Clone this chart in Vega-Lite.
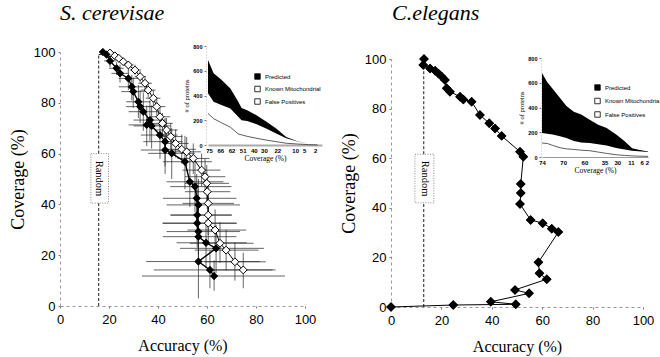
{
"$schema": "https://vega.github.io/schema/vega-lite/v6.json",
"width": 660, "height": 357, "autosize": {"type": "none"}, "padding": 0,
"background": "white",
"config": {"view": {"stroke": null}, "font": "Liberation Sans", "axis": {"grid": false}},
"datasets": {
"one": [{}],
"lf": [
{"a":17.5,"c":100,"xl":16.5,"xh":19,"yl":99,"yh":100},
{"a":19,"c":99,"xl":17,"xh":21,"yl":98,"yh":100},
{"a":20.4,"c":96.5,"xl":18,"xh":23,"yl":94,"yh":99},
{"a":23.1,"c":93.6,"xl":20,"xh":26,"yl":91,"yh":96},
{"a":24.5,"c":91.6,"xl":21,"xh":28,"yl":88,"yh":95},
{"a":27.9,"c":89.6,"xl":24,"xh":32,"yl":85,"yh":94},
{"a":29.3,"c":86.3,"xl":24,"xh":34,"yl":81,"yh":91},
{"a":29.9,"c":84.4,"xl":25,"xh":35,"yl":78,"yh":90},
{"a":32,"c":80.4,"xl":27,"xh":37,"yl":74,"yh":87},
{"a":32.7,"c":78.5,"xl":27,"xh":38,"yl":72,"yh":85},
{"a":34,"c":76.5,"xl":28,"xh":40,"yl":69,"yh":84},
{"a":36.7,"c":73.2,"xl":30,"xh":43,"yl":65,"yh":81},
{"a":35.4,"c":71.3,"xl":28,"xh":43,"yl":63,"yh":79},
{"a":37.4,"c":70.9,"xl":30,"xh":45,"yl":62,"yh":79},
{"a":40.8,"c":67.3,"xl":33,"xh":48,"yl":58,"yh":76},
{"a":42.9,"c":64.7,"xl":34,"xh":50,"yl":55,"yh":74},
{"a":42.9,"c":61.4,"xl":33,"xh":52,"yl":52,"yh":71},
{"a":45.6,"c":60.1,"xl":36,"xh":55,"yl":50,"yh":70},
{"a":51,"c":56.8,"xl":42,"xh":62,"yl":46,"yh":67},
{"a":53,"c":48.9,"xl":43.5,"xh":66.7,"yl":39,"yh":59},
{"a":55.1,"c":47,"xl":45,"xh":70,"yl":37,"yh":57},
{"a":55.8,"c":42.4,"xl":42,"xh":72,"yl":33,"yh":52},
{"a":56.5,"c":39.8,"xl":43.5,"xh":73.5,"yl":30,"yh":50},
{"a":56,"c":35.8,"xl":45,"xh":70,"yl":26,"yh":46},
{"a":56,"c":32.6,"xl":42,"xh":72,"yl":23,"yh":42},
{"a":56.5,"c":29.3,"xl":43.5,"xh":73.5,"yl":20,"yh":39},
{"a":56.5,"c":27.3,"xl":42,"xh":72,"yl":18,"yh":37},
{"a":59.6,"c":24.9,"xl":47.6,"xh":76.2,"yl":15,"yh":34},
{"a":63.7,"c":22.7,"xl":49,"xh":83.3,"yl":13,"yh":32},
{"a":56.5,"c":17.5,"xl":35.2,"xh":81.6,"yl":3,"yh":30},
{"a":61.2,"c":14.2,"xl":38.3,"xh":86.7,"yl":7,"yh":22},
{"a":62.9,"c":11.8,"xl":33.5,"xh":91.8,"yl":6,"yh":18}
],
"lo": [
{"a":20.4,"c":99.6,"xl":19.5,"xh":21.5,"yl":99,"yh":100},
{"a":22.4,"c":98.5,"xl":21,"xh":24,"yl":97.5,"yh":99.5},
{"a":24,"c":97.5,"xl":22.5,"xh":25.5,"yl":96.5,"yh":98.5},
{"a":25.8,"c":96.2,"xl":24,"xh":27.5,"yl":95,"yh":97.5},
{"a":27.9,"c":94.9,"xl":26,"xh":30,"yl":93,"yh":96.5},
{"a":30.6,"c":92.9,"xl":28.5,"xh":33,"yl":91,"yh":95},
{"a":32.7,"c":90.3,"xl":30.5,"xh":35,"yl":88,"yh":92.5},
{"a":34.7,"c":87.7,"xl":32,"xh":37.5,"yl":85,"yh":90.5},
{"a":36,"c":85,"xl":33,"xh":39,"yl":82,"yh":88},
{"a":38.1,"c":81.8,"xl":35,"xh":41,"yl":78.5,"yh":85},
{"a":39.5,"c":78.5,"xl":36,"xh":43,"yl":75,"yh":82},
{"a":40.8,"c":74.5,"xl":37,"xh":45,"yl":70.5,"yh":78.5},
{"a":41.8,"c":71.9,"xl":38,"xh":46,"yl":67.5,"yh":76},
{"a":43.5,"c":69.3,"xl":39,"xh":48,"yl":64.5,"yh":74},
{"a":45.2,"c":66.7,"xl":40.5,"xh":50,"yl":61.5,"yh":72},
{"a":47.2,"c":64,"xl":42,"xh":52.5,"yl":58.5,"yh":69.5},
{"a":49.7,"c":61.7,"xl":44,"xh":55.5,"yl":56,"yh":67.5},
{"a":51.7,"c":60.7,"xl":46,"xh":57.5,"yl":55,"yh":66.5},
{"a":54.4,"c":58.1,"xl":48,"xh":61,"yl":52,"yh":64},
{"a":57.8,"c":53.5,"xl":50,"xh":65.5,"yl":47,"yh":60},
{"a":59.2,"c":50.9,"xl":51,"xh":67.5,"yl":44,"yh":58},
{"a":59.9,"c":48.3,"xl":51,"xh":69,"yl":41,"yh":55.5},
{"a":60.1,"c":45,"xl":51,"xh":69.5,"yl":38,"yh":52},
{"a":60.5,"c":40.4,"xl":50,"xh":71,"yl":33,"yh":48},
{"a":60.5,"c":35.8,"xl":45.2,"xh":70.2,"yl":28,"yh":43.5},
{"a":60.5,"c":32.6,"xl":41.8,"xh":72.2,"yl":25,"yh":40},
{"a":63.3,"c":29.9,"xl":52,"xh":76,"yl":22,"yh":38},
{"a":65.3,"c":24.7,"xl":53,"xh":79,"yl":17,"yh":33},
{"a":67.8,"c":22,"xl":55,"xh":81,"yl":14,"yh":30},
{"a":71.4,"c":17.4,"xl":59,"xh":84,"yl":10,"yh":25},
{"a":74.8,"c":14.2,"xl":62,"xh":88,"yl":7,"yh":21}
],
"r": [
{"a":13.1,"c":100},{"a":12.8,"c":97.6},{"a":15.5,"c":96.2},{"a":17.5,"c":95.3},{"a":18.8,"c":94.2},
{"a":20.1,"c":92.9},{"a":21.4,"c":91.5},{"a":22.1,"c":88.2},{"a":23.4,"c":86.8},{"a":27.4,"c":84.8},
{"a":28.7,"c":83.7},{"a":32,"c":82.8},{"a":35.3,"c":77.4},{"a":39,"c":74.1},{"a":41.3,"c":72},
{"a":43.9,"c":69},{"a":51.2,"c":62.6},{"a":52.5,"c":60.6},{"a":51.5,"c":49.6},{"a":51.5,"c":46},
{"a":51.2,"c":41.5},{"a":55.4,"c":35.1},{"a":60.2,"c":33.8},{"a":63.8,"c":31.6},{"a":66.4,"c":30.2},
{"a":58.5,"c":18},{"a":58.9,"c":13.6},{"a":61.8,"c":11.2},{"a":49.2,"c":6.9},{"a":54.8,"c":5.5},
{"a":39.6,"c":2.1},{"a":49.5,"c":1.1},{"a":24.7,"c":0.8},{"a":0,"c":0}
],
"li": [
{"p":0,"t":686,"m":419,"l":255,"s":"Predicted"},
{"p":0.5,"t":580,"m":349,"l":213,"s":"Predicted"},
{"p":1.2,"t":528,"m":324,"l":180,"s":"Predicted"},
{"p":2,"t":457,"m":295,"l":144,"s":"Predicted"},
{"p":2.7,"t":352,"m":228,"l":90,"s":"Predicted"},
{"p":3,"t":298,"m":200,"l":82,"s":"Predicted"},
{"p":3.5,"t":280,"m":193,"l":70,"s":"Predicted"},
{"p":4.3,"t":243,"m":169,"l":55,"s":"Predicted"},
{"p":5.2,"t":189,"m":134,"l":40,"s":"Predicted"},
{"p":6.1,"t":134,"m":93,"l":27,"s":"Predicted"},
{"p":7,"t":65,"m":55,"l":14,"s":"Predicted"},
{"p":8,"t":30,"m":28,"l":8,"s":"Predicted"},
{"p":9,"t":13,"m":12,"l":3,"s":"Predicted"},
{"p":9.8,"t":4,"m":4,"l":1,"s":"Predicted"}
],
"ri": [
{"p":0,"t":679,"m":194,"l":113,"s":"Predicted"},
{"p":0.5,"t":605,"m":187,"l":109,"s":"Predicted"},
{"p":1,"t":551,"m":181,"l":94,"s":"Predicted"},
{"p":1.7,"t":476,"m":167,"l":75,"s":"Predicted"},
{"p":2.3,"t":412,"m":154,"l":66,"s":"Predicted"},
{"p":3,"t":366,"m":130,"l":61,"s":"Predicted"},
{"p":3.7,"t":343,"m":117,"l":55,"s":"Predicted"},
{"p":4.5,"t":302,"m":113,"l":51,"s":"Predicted"},
{"p":5.3,"t":261,"m":104,"l":40,"s":"Predicted"},
{"p":6.1,"t":234,"m":93,"l":29,"s":"Predicted"},
{"p":7,"t":181,"m":73,"l":18,"s":"Predicted"},
{"p":7.8,"t":128,"m":60,"l":13,"s":"Predicted"},
{"p":8.5,"t":70,"m":50,"l":9,"s":"Predicted"},
{"p":9.1,"t":59,"m":46,"l":7,"s":"Predicted"},
{"p":10,"t":45,"m":40,"l":5,"s":"Predicted"}
]
},
"layer": [
{
"layer": [
{"data": {"name": "lf"}, "mark": {"type": "point", "shape": "diamond", "filled": true, "color": "black", "size": 60, "opacity": 1},
 "encoding": {"x": {"field": "a", "type": "quantitative", "scale": {"domain":[0,100],"range":[60,305],"nice":false,"zero":false},
   "axis": {"orient": "bottom", "offset": -51, "values": [0,20,40,60,80,100], "title": "Accuracy (%)", "titleFont": "Liberation Serif", "titleFontSize": 16, "titleFontWeight": "normal", "titleColor": "black", "titlePadding": 11, "labelFont": "Liberation Sans", "labelFontSize": 13, "labelColor": "black", "labelPadding": 5, "tickSize": 2, "tickColor": "#777", "domainColor": "#999", "domainDash": [3,3], "labelFlush": false, "labelOverlap": false, "grid": false}},
  "y": {"field": "c", "type": "quantitative", "scale": {"domain":[0,100],"range":[306,52],"nice":false,"zero":false},
   "axis": {"orient": "left", "offset": -60, "values": [0,20,40,60,80,100], "title": "Coverage (%)", "titleFont": "Liberation Serif", "titleFontSize": 18, "titleFontWeight": "normal", "titleColor": "black", "titlePadding": 6, "labelFont": "Liberation Sans", "labelFontSize": 13, "labelColor": "black", "labelPadding": 3, "tickSize": 2, "tickColor": "#777", "domainColor": "#999", "domainDash": [3,3], "labelFlush": false, "labelOverlap": false, "grid": false}}}},
{"data": {"name": "one"}, "mark": {"type": "rule", "strokeDash": [3,2], "color": "black", "strokeWidth": 0.9},
 "encoding": {"x": {"datum": 15.8, "type": "quantitative"}, "y": {"datum": 60, "type": "quantitative"}, "y2": {"datum": 99}}},
{"data": {"name": "one"}, "mark": {"type": "rule", "strokeDash": [3,2], "color": "black", "strokeWidth": 0.9},
 "encoding": {"x": {"datum": 15.8, "type": "quantitative"}, "x2": {"datum": 17.5}, "y": {"datum": 99, "type": "quantitative"}}},
{"data": {"name": "one"}, "mark": {"type": "rule", "strokeDash": [3,2], "color": "black", "strokeWidth": 0.9},
 "encoding": {"x": {"datum": 15.8, "type": "quantitative"}, "y": {"datum": 0, "type": "quantitative"}, "y2": {"datum": 40.5}}},
{"data": {"name": "one"}, "mark": {"type": "rect", "fill": "white", "stroke": "#555", "strokeWidth": 0.7, "strokeDash": [1,1.5]},
 "encoding": {"x": {"datum": 12.6, "type": "quantitative"}, "x2": {"datum": 19.8}, "y": {"datum": 40.5, "type": "quantitative"}, "y2": {"datum": 60}}},
{"data": {"name": "one"}, "mark": {"type": "text", "text": "Random", "angle": 90, "font": "Liberation Serif", "fontSize": 10.5, "align": "center", "baseline": "middle", "color": "black"},
 "encoding": {"x": {"datum": 16, "type": "quantitative"}, "y": {"datum": 50.2, "type": "quantitative"}}},
{"data": {"name": "one"}, "mark": {"type": "text", "text": "S. cerevisae", "font": "Liberation Serif", "fontStyle": "italic", "fontSize": 22, "align": "left", "baseline": "middle", "color": "black"},
 "encoding": {"x": {"datum": 0, "type": "quantitative"}, "y": {"datum": 115.4, "type": "quantitative"}}},
{"data": {"name": "lo"}, "mark": {"type": "rule", "color": "#222", "strokeWidth": 0.7},
 "encoding": {"x": {"field": "xl", "type": "quantitative"}, "x2": {"field": "xh"}, "y": {"field": "c", "type": "quantitative"}}},
{"data": {"name": "lo"}, "mark": {"type": "rule", "color": "#222", "strokeWidth": 0.7},
 "encoding": {"x": {"field": "a", "type": "quantitative"}, "y": {"field": "yl", "type": "quantitative"}, "y2": {"field": "yh"}}},
{"data": {"name": "lf"}, "mark": {"type": "rule", "color": "#222", "strokeWidth": 0.7},
 "encoding": {"x": {"field": "xl", "type": "quantitative"}, "x2": {"field": "xh"}, "y": {"field": "c", "type": "quantitative"}}},
{"data": {"name": "lf"}, "mark": {"type": "rule", "color": "#222", "strokeWidth": 0.7},
 "encoding": {"x": {"field": "a", "type": "quantitative"}, "y": {"field": "yl", "type": "quantitative"}, "y2": {"field": "yh"}}},
{"data": {"name": "lo"}, "mark": {"type": "line", "color": "black", "strokeWidth": 1},
 "encoding": {"x": {"field": "a", "type": "quantitative"}, "y": {"field": "c", "type": "quantitative"}, "order": {"value": null}}},
{"data": {"name": "lf"}, "mark": {"type": "line", "color": "black", "strokeWidth": 1.4},
 "encoding": {"x": {"field": "a", "type": "quantitative"}, "y": {"field": "c", "type": "quantitative"}, "order": {"value": null}}},
{"data": {"name": "lo"}, "mark": {"type": "point", "shape": "diamond", "filled": true, "fill": "white", "stroke": "black", "strokeWidth": 1, "size": 62, "opacity": 1},
 "encoding": {"x": {"field": "a", "type": "quantitative"}, "y": {"field": "c", "type": "quantitative"}}},
{"data": {"name": "lf"}, "mark": {"type": "point", "shape": "diamond", "filled": true, "color": "black", "size": 62, "opacity": 1},
 "encoding": {"x": {"field": "a", "type": "quantitative"}, "y": {"field": "c", "type": "quantitative"}}}
]
},
{
"layer": [
{"data": {"name": "li"}, "mark": {"type": "area", "opacity": 1},
 "encoding": {"x": {"field": "p", "type": "quantitative", "scale": {"domain":[0,10.2],"range":[208,322],"nice":false,"zero":false},
   "axis": {"orient": "bottom", "offset": -212, "values": [0.1,1.1,2.1,3.1,4.1,5,6.2,7.8,8.6,9.6], "labelExpr": "['75','66','62','51','40','30','22','10','5','2'][indexof([0.1,1.1,2.1,3.1,4.1,5,6.2,7.8,8.6,9.6], datum.value)]", "title": "Coverage (%)", "titleFont": "Liberation Serif", "titleFontSize": 7.5, "titleFontWeight": "normal", "titleColor": "black", "titlePadding": 1, "labelFont": "Liberation Sans", "labelFontSize": 6, "labelFontWeight": "bold", "labelColor": "black", "labelPadding": 2, "tickSize": 0, "domainColor": "#aaa", "domainWidth": 2, "labelFlush": false, "labelOverlap": false, "grid": false}},
  "y": {"field": "t", "type": "quantitative", "scale": {"domain":[0,800],"range":[145,46],"nice":false,"zero":false},
   "axis": {"orient": "left", "offset": -206, "values": [0,200,400,600,800], "title": "# of proteins", "titleFont": "Liberation Serif", "titleFontSize": 6.5, "titleFontWeight": "normal", "titleColor": "black", "titlePadding": 3, "labelFont": "Liberation Sans", "labelFontSize": 5.5, "labelFontWeight": "bold", "labelColor": "black", "labelPadding": 2, "tickSize": 2, "tickColor": "#777", "domainColor": "#bbb", "domainDash": [1,2], "labelFlush": false, "labelOverlap": false, "grid": false}},
  "y2": {"field": "m"},
  "color": {"field": "s", "type": "nominal", "scale": {"domain": ["Predicted","Known Mitochondrial","False Positives"], "range": ["black","white","white"]},
   "legend": {"orient": "none", "legendX": 254, "legendY": 73, "title": null, "symbolType": "square", "symbolSize": 30, "symbolStrokeColor": "black", "symbolStrokeWidth": 0.8, "labelFont": "Liberation Sans", "labelFontSize": 6, "labelColor": "black", "rowPadding": 3.5, "labelOffset": 4,
    "encode": {"symbols": {"update": {"stroke": {"value": "black"}, "strokeWidth": {"value": 0.8}}}}}}}},
{"data": {"name": "li"}, "mark": {"type": "line", "color": "#333", "strokeWidth": 0.8},
 "encoding": {"x": {"field": "p", "type": "quantitative"}, "y": {"field": "l", "type": "quantitative"}}}
]
},
{
"layer": [
{"data": {"name": "r"}, "mark": {"type": "point", "shape": "diamond", "filled": true, "color": "black", "size": 90, "opacity": 1},
 "encoding": {"x": {"field": "a", "type": "quantitative", "scale": {"domain":[0,100],"range":[391,643],"nice":false,"zero":false},
   "axis": {"orient": "bottom", "offset": -50, "values": [0,20,40,60,80,100], "title": "Accuracy (%)", "titleFont": "Liberation Serif", "titleFontSize": 16, "titleFontWeight": "normal", "titleColor": "black", "titlePadding": 11, "labelFont": "Liberation Sans", "labelFontSize": 13, "labelColor": "black", "labelPadding": 5, "tickSize": 2, "tickColor": "#777", "domainColor": "#999", "domainDash": [3,3], "labelFlush": false, "labelOverlap": false, "grid": false}},
  "y": {"field": "c", "type": "quantitative", "scale": {"domain":[0,100],"range":[307,59],"nice":false,"zero":false},
   "axis": {"orient": "left", "offset": -391, "values": [0,20,40,60,80,100], "title": "Coverage (%)", "titleFont": "Liberation Serif", "titleFontSize": 18, "titleFontWeight": "normal", "titleColor": "black", "titlePadding": 6, "labelFont": "Liberation Sans", "labelFontSize": 13, "labelColor": "black", "labelPadding": 3, "tickSize": 2, "tickColor": "#777", "domainColor": "#999", "domainDash": [3,3], "labelFlush": false, "labelOverlap": false, "grid": false}}}},
{"data": {"name": "one"}, "mark": {"type": "rule", "strokeDash": [3,2], "color": "black", "strokeWidth": 0.9},
 "encoding": {"x": {"datum": 13, "type": "quantitative"}, "y": {"datum": 61.6, "type": "quantitative"}, "y2": {"datum": 98}}},
{"data": {"name": "one"}, "mark": {"type": "rule", "strokeDash": [3,2], "color": "black", "strokeWidth": 0.9},
 "encoding": {"x": {"datum": 13, "type": "quantitative"}, "y": {"datum": 0, "type": "quantitative"}, "y2": {"datum": 42}}},
{"data": {"name": "one"}, "mark": {"type": "rect", "fill": "white", "stroke": "#555", "strokeWidth": 0.7, "strokeDash": [1,1.5]},
 "encoding": {"x": {"datum": 9.5, "type": "quantitative"}, "x2": {"datum": 17}, "y": {"datum": 42, "type": "quantitative"}, "y2": {"datum": 61.6}}},
{"data": {"name": "one"}, "mark": {"type": "text", "text": "Random", "angle": 90, "font": "Liberation Serif", "fontSize": 10.5, "align": "center", "baseline": "middle", "color": "black"},
 "encoding": {"x": {"datum": 13.3, "type": "quantitative"}, "y": {"datum": 51.8, "type": "quantitative"}}},
{"data": {"name": "one"}, "mark": {"type": "text", "text": "C.elegans", "font": "Liberation Serif", "fontStyle": "italic", "fontSize": 22, "align": "left", "baseline": "middle", "color": "black"},
 "encoding": {"x": {"datum": 0.4, "type": "quantitative"}, "y": {"datum": 118.5, "type": "quantitative"}}},
{"data": {"name": "r"}, "mark": {"type": "line", "color": "black", "strokeWidth": 1},
 "encoding": {"x": {"field": "a", "type": "quantitative"}, "y": {"field": "c", "type": "quantitative"}, "order": {"value": null}}},
{"data": {"name": "r"}, "mark": {"type": "point", "shape": "diamond", "filled": true, "color": "black", "size": 90, "opacity": 1},
 "encoding": {"x": {"field": "a", "type": "quantitative"}, "y": {"field": "c", "type": "quantitative"}}}
]
},
{
"layer": [
{"data": {"name": "ri"}, "mark": {"type": "area", "opacity": 1},
 "encoding": {"x": {"field": "p", "type": "quantitative", "scale": {"domain":[0,10],"range":[542,648],"nice":false,"zero":false},
   "axis": {"orient": "bottom", "offset": -200, "values": [0,2,4,5.9,7.1,8.4,9.4,9.9], "labelExpr": "['74','70','60','35','30','11','6','2'][indexof([0,2,4,5.9,7.1,8.4,9.4,9.9], datum.value)]", "title": "Coverage (%)", "titleFont": "Liberation Serif", "titleFontSize": 7.5, "titleFontWeight": "normal", "titleColor": "black", "titlePadding": 1, "labelFont": "Liberation Sans", "labelFontSize": 6, "labelFontWeight": "bold", "labelColor": "black", "labelPadding": 2, "tickSize": 0, "domainColor": "#999", "domainWidth": 1, "labelFlush": false, "labelOverlap": false, "grid": false}},
  "y": {"field": "t", "type": "quantitative", "scale": {"domain":[0,800],"range":[157,58],"nice":false,"zero":false},
   "axis": {"orient": "left", "offset": -541, "values": [0,200,400,600,800], "title": "# of proteins", "titleFont": "Liberation Serif", "titleFontSize": 6.5, "titleFontWeight": "normal", "titleColor": "black", "titlePadding": 3, "labelFont": "Liberation Sans", "labelFontSize": 5.5, "labelFontWeight": "bold", "labelColor": "black", "labelPadding": 2, "tickSize": 2, "tickColor": "#777", "domainColor": "#bbb", "domainDash": [1,2], "labelFlush": false, "labelOverlap": false, "grid": false}},
  "y2": {"field": "m"},
  "color": {"field": "s", "type": "nominal", "scale": {"domain": ["Predicted","Known Mitochondria","False Positives"], "range": ["black","white","white"]},
   "legend": {"orient": "none", "legendX": 594, "legendY": 84, "title": null, "symbolType": "square", "symbolSize": 30, "symbolStrokeColor": "black", "symbolStrokeWidth": 0.8, "labelFont": "Liberation Sans", "labelFontSize": 6, "labelColor": "black", "rowPadding": 4.5, "labelOffset": 4,
    "encode": {"symbols": {"update": {"stroke": {"value": "black"}, "strokeWidth": {"value": 0.8}}}}}}}},
{"data": {"name": "ri"}, "mark": {"type": "line", "color": "#333", "strokeWidth": 0.8},
 "encoding": {"x": {"field": "p", "type": "quantitative"}, "y": {"field": "l", "type": "quantitative"}}}
]
}
],
"resolve": {"scale": {"x": "independent", "y": "independent", "color": "independent"}}
}
